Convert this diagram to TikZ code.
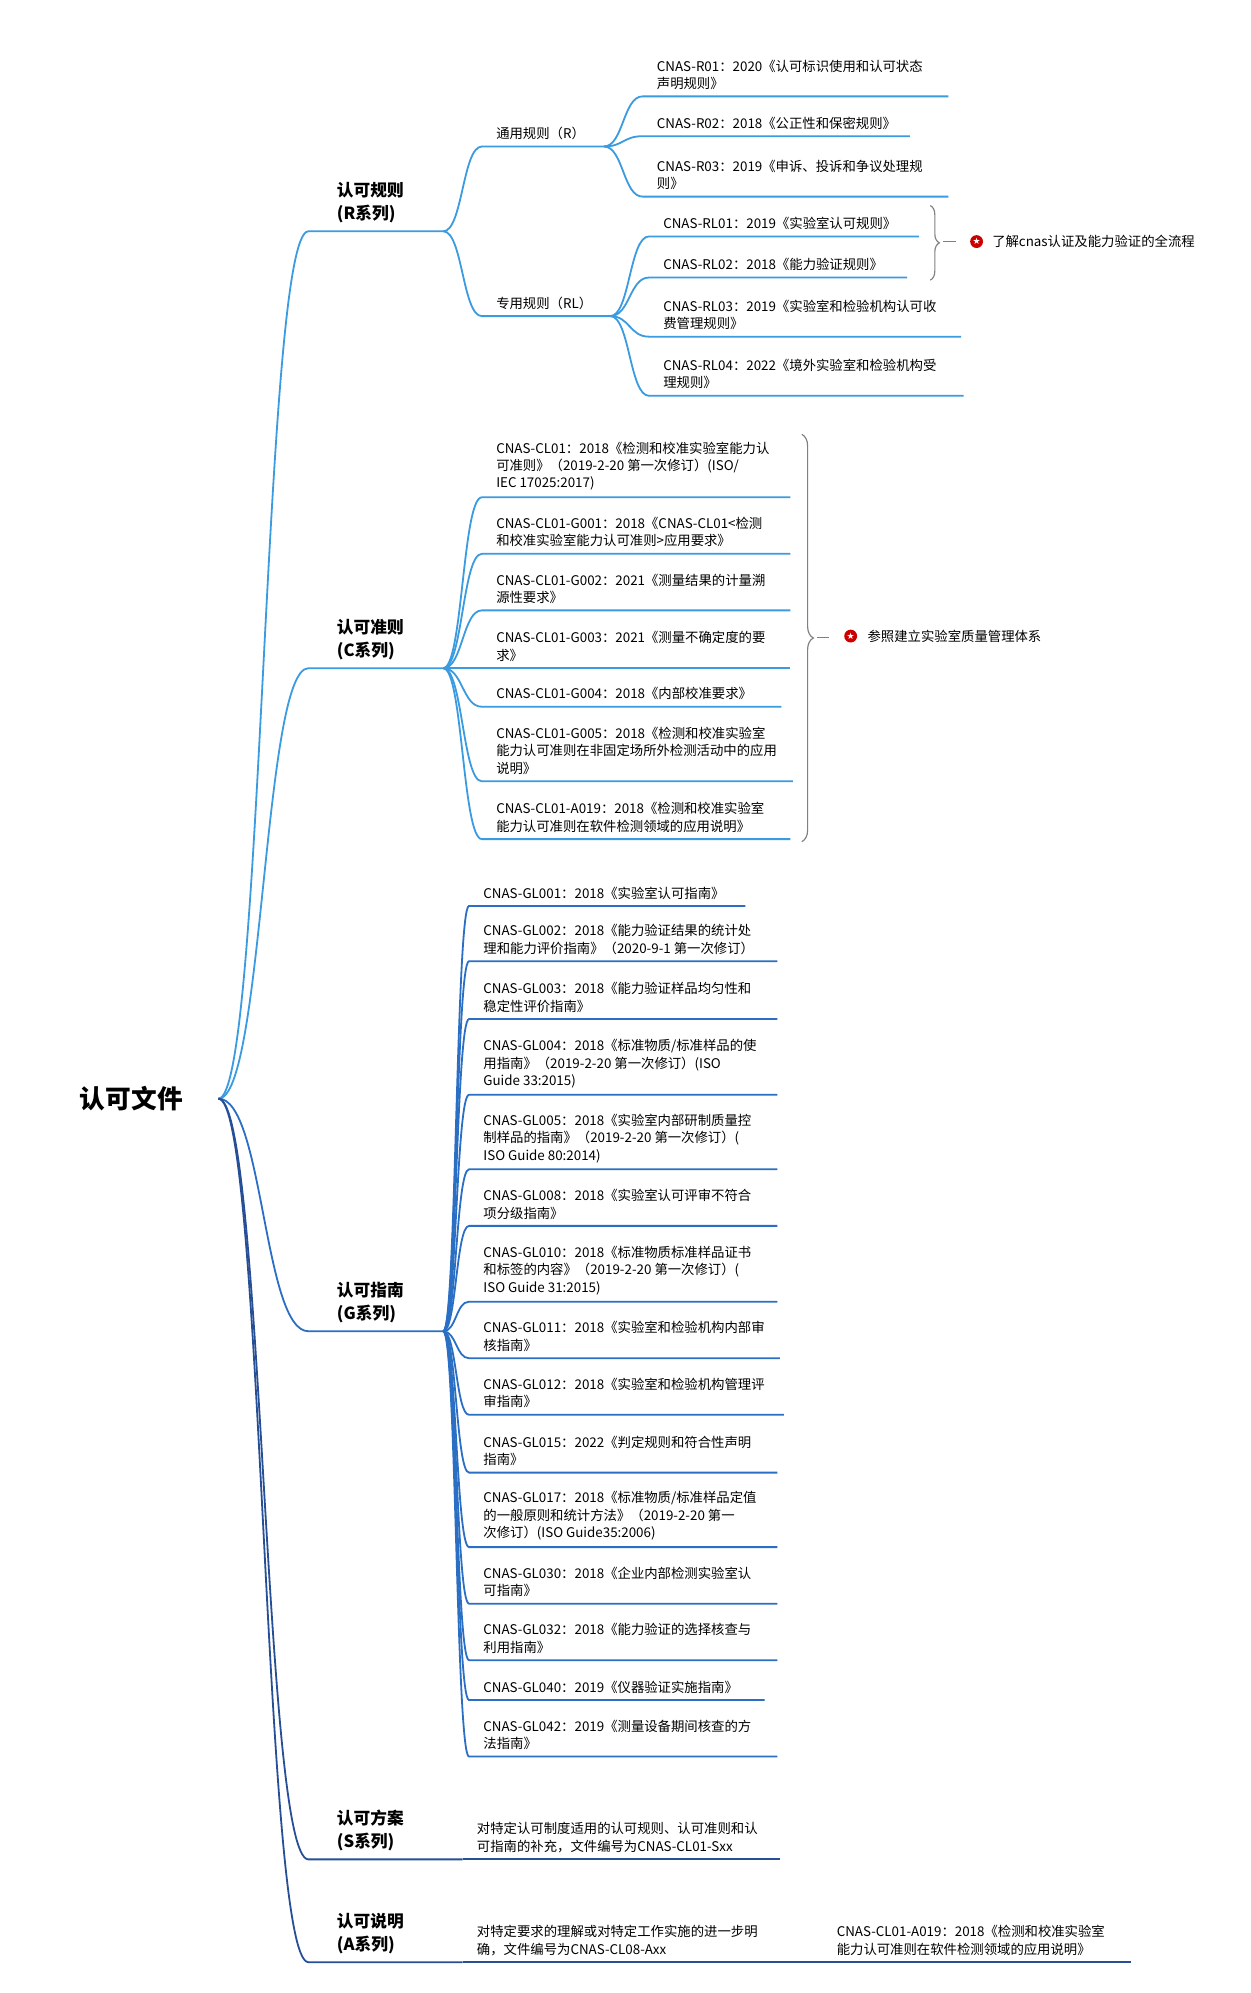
\documentclass[tikz,border=0pt]{standalone}
\usepackage{fontspec}
\setmainfont{Noto Sans CJK SC}
\newfontfamily\symf{DejaVu Sans}
\usetikzlibrary{calc,decorations.pathreplacing}
\definecolor{lb}{HTML}{3A9BE0}
\definecolor{mb}{HTML}{2A6FC4}
\definecolor{db}{HTML}{264F96}
\tikzset{
 leaf/.style={inner sep=0pt,anchor=south west,align=left,font=\fontsize{10.4}{13.6}\selectfont},
 lone/.style={inner sep=0pt,anchor=south west,align=left,font=\fontsize{13}{18}\selectfont\bfseries},
 conn/.style={line width=1.4pt},
}
% #1 name #2 parent #3 xs #4 xe #5 y #6 color #7 text
\newcommand\lf[7]{%
 \coordinate (#1s) at (#3,#5); \coordinate (#1e) at (#4,#5);
 \node[leaf] (#1) at (#3+11,#5-5) {#7};
 \draw[conn,#6] let \p1=(#2), \p2=(#1s) in (\p1) .. controls ({0.5*\x1+0.5*\x2},\y1) and ({0.5*\x1+0.5*\x2},\y2) .. (\p2) -- (#1e);}
\newcommand\lo[7]{%
 \coordinate (#1s) at (#3,#5); \coordinate (#1e) at (#4,#5);
 \node[lone] (#1) at (#3+22,#5-6) {#7};
 \draw[conn,#6] let \p1=(#2), \p2=(#1s) in (\p1) .. controls ({0.5*\x1+0.5*\x2},\y1) and ({0.5*\x1+0.5*\x2},\y2) .. (\p2) -- (#1e);}
\newcommand\starmark[2]{%
 \node[circle,fill=red!80!black,inner sep=0pt,minimum size=10pt,text=white,font=\symf\fontsize{7}{7}\selectfont] (#1) at #2 {★};}
\begin{document}
\begin{tikzpicture}[x=1pt,y=-1pt]
\useasboundingbox (0,0) rectangle (973,1551);
\fill[white] (0,0) rectangle (973,1551);
\node[inner sep=0pt,anchor=west,font=\fontsize{20}{24}\selectfont\bfseries] (root) at (62,855) {认可文件};
\coordinate (roote) at (170,855);
% level 1
\lo{R}{roote}{240}{345}{180}{lb}{认可规则\\ (R系列)}
\lo{C}{roote}{240}{345}{520}{lb}{认可准则\\ (C系列)}
\lo{G}{roote}{240}{345}{1036}{mb}{认可指南\\(G系列)}
\lo{S}{roote}{240}{360}{1447}{db}{认可方案\\(S系列)}
\lo{A}{roote}{240}{360}{1527}{db}{认可说明\\(A系列)}
% R
\lf{RG}{Re}{375}{470}{114}{lb}{通用规则（R）}
\lf{RL}{Re}{375}{475}{246}{lb}{专用规则（RL）}
\lf{r1}{RGe}{500}{738}{75}{lb}{CNAS-R01：2020《认可标识使用和认可状态\\声明规则》}
\lf{r2}{RGe}{500}{708}{106}{lb}{CNAS-R02：2018《公正性和保密规则》}
\lf{r3}{RGe}{500}{738}{153}{lb}{CNAS-R03：2019《申诉、投诉和争议处理规\\则》}
\lf{l1}{RLe}{505}{715}{184}{lb}{CNAS-RL01：2019《实验室认可规则》}
\lf{l2}{RLe}{505}{706}{216}{lb}{CNAS-RL02：2018《能力验证规则》}
\lf{l3}{RLe}{505}{748}{262}{lb}{CNAS-RL03：2019《实验室和检验机构认可收\\费管理规则》}
\lf{l4}{RLe}{505}{750}{308}{lb}{CNAS-RL04：2022《境外实验室和检验机构受\\理规则》}
\coordinate (b1t) at (724,160); \coordinate (b1b) at (724,218);
\draw[gray,line width=0.9pt,decorate,decoration={brace,amplitude=7pt}] (b1t) -- (b1b);
\coordinate (b1m) at (734,188); \coordinate (b1n) at (744,188);
\draw[gray,line width=0.9pt] (b1m) -- (b1n);
\starmark{s1}{(760,188)}
\node[leaf,anchor=west] (n1) at (772,188) {了解cnas认证及能力验证的全流程};
% C
\lf{c1}{Ce}{375}{615}{387}{lb}{CNAS-CL01：2018《检测和校准实验室能力认\\可准则》（2019-2-20 第一次修订）(ISO/\\IEC 17025:2017)}
\lf{c2}{Ce}{375}{615}{431}{lb}{CNAS-CL01-G001：2018《CNAS-CL01<检测\\和校准实验室能力认可准则>应用要求》}
\lf{c3}{Ce}{375}{615}{475}{lb}{CNAS-CL01-G002：2021《测量结果的计量溯\\源性要求》}
\lf{c4}{Ce}{375}{615}{520}{lb}{CNAS-CL01-G003：2021《测量不确定度的要\\求》}
\lf{c5}{Ce}{375}{608}{550}{lb}{CNAS-CL01-G004：2018《内部校准要求》}
\lf{c6}{Ce}{375}{617}{608}{lb}{CNAS-CL01-G005：2018《检测和校准实验室\\能力认可准则在非固定场所外检测活动中的应用\\说明》}
\lf{c7}{Ce}{375}{615}{653}{lb}{CNAS-CL01-A019：2018《检测和校准实验室\\能力认可准则在软件检测领域的应用说明》}
\coordinate (b2t) at (624,338); \coordinate (b2b) at (624,655);
\draw[gray,line width=0.9pt,decorate,decoration={brace,amplitude=9pt}] (b2t) -- (b2b);
\coordinate (b2m) at (636,496); \coordinate (b2n) at (645,496);
\draw[gray,line width=0.9pt] (b2m) -- (b2n);
\starmark{s2}{(662,495)}
\node[leaf,anchor=west] (n2) at (675,495) {参照建立实验室质量管理体系};
% G
\lf{g1}{Ge}{365}{580}{705}{mb}{CNAS-GL001：2018《实验室认可指南》}
\lf{g2}{Ge}{365}{605}{748}{mb}{CNAS-GL002：2018《能力验证结果的统计处\\理和能力评价指南》（2020-9-1 第一次修订）}
\lf{g3}{Ge}{365}{605}{793}{mb}{CNAS-GL003：2018《能力验证样品均匀性和\\稳定性评价指南》}
\lf{g4}{Ge}{365}{605}{852}{mb}{CNAS-GL004：2018《标准物质/标准样品的使\\用指南》（2019-2-20 第一次修订）(ISO\\Guide 33:2015)}
\lf{g5}{Ge}{365}{605}{910}{mb}{CNAS-GL005：2018《实验室内部研制质量控\\制样品的指南》（2019-2-20 第一次修订）(\\ISO Guide 80:2014)}
\lf{g6}{Ge}{365}{605}{954}{mb}{CNAS-GL008：2018《实验室认可评审不符合\\项分级指南》}
\lf{g7}{Ge}{365}{605}{1013}{mb}{CNAS-GL010：2018《标准物质标准样品证书\\和标签的内容》（2019-2-20 第一次修订）(\\ISO Guide 31:2015)}
\lf{g8}{Ge}{365}{607}{1057}{mb}{CNAS-GL011：2018《实验室和检验机构内部审\\核指南》}
\lf{g9}{Ge}{365}{610}{1101}{mb}{CNAS-GL012：2018《实验室和检验机构管理评\\审指南》}
\lf{g10}{Ge}{365}{605}{1146}{mb}{CNAS-GL015：2022《判定规则和符合性声明\\指南》}
\lf{g11}{Ge}{365}{605}{1204}{mb}{CNAS-GL017：2018《标准物质/标准样品定值\\的一般原则和统计方法》（2019-2-20 第一\\次修订）(ISO Guide35:2006)}
\lf{g12}{Ge}{365}{605}{1248}{mb}{CNAS-GL030：2018《企业内部检测实验室认\\可指南》}
\lf{g13}{Ge}{365}{605}{1292}{mb}{CNAS-GL032：2018《能力验证的选择核查与\\利用指南》}
\lf{g14}{Ge}{365}{595}{1323}{mb}{CNAS-GL040：2019《仪器验证实施指南》}
\lf{g15}{Ge}{365}{605}{1367}{mb}{CNAS-GL042：2019《测量设备期间核查的方\\法指南》}
% S, A
\lf{s1t}{Se}{360}{607}{1447}{db}{对特定认可制度适用的认可规则、认可准则和认\\可指南的补充，文件编号为CNAS-CL01-Sxx}
\lf{a1t}{Ae}{360}{640}{1527}{db}{对特定要求的理解或对特定工作实施的进一步明\\确，文件编号为CNAS-CL08-Axx}
\lf{a2t}{a1te}{640}{880}{1527}{db}{CNAS-CL01-A019：2018《检测和校准实验室\\能力认可准则在软件检测领域的应用说明》}
\end{tikzpicture}
\end{document}
